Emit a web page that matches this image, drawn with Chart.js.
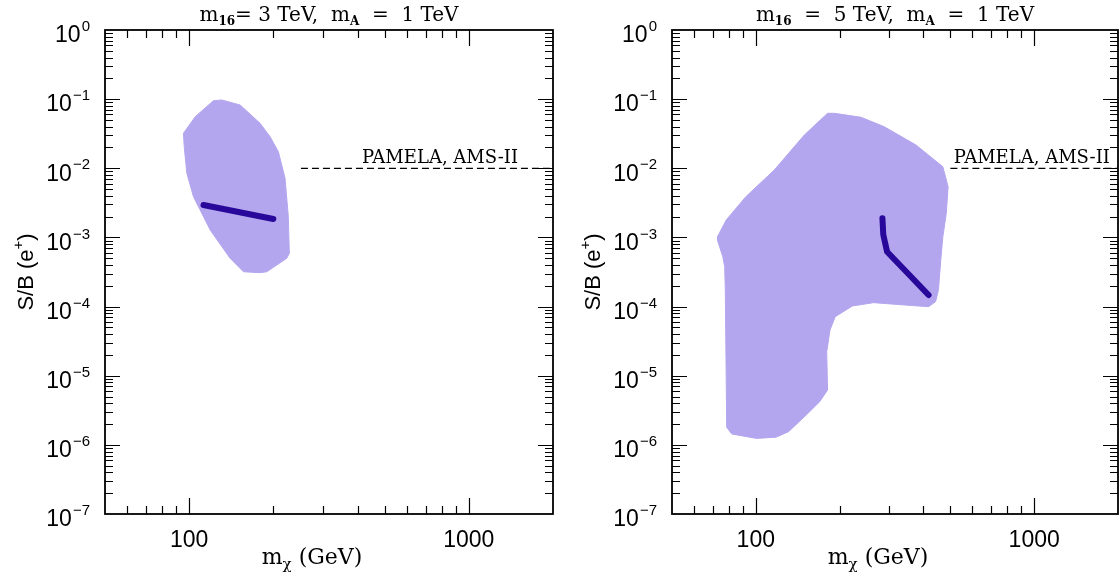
<!DOCTYPE html>
<html><head><meta charset="utf-8">
<script src="https://cdn.jsdelivr.net/npm/chart.js@4.4.1/dist/chart.umd.min.js"></script>
<style>
html,body{margin:0;padding:0;background:#fff;}
#wrap{position:relative;width:1120px;height:580px;overflow:hidden;}
.pane{position:absolute;top:0;width:560px;height:580px;}
</style></head><body>
<div id="wrap">
<div class="pane" style="left:0"><canvas id="c1" width="560" height="580"></canvas></div>
<div class="pane" style="left:560px"><canvas id="c2" width="560" height="580"></canvas></div>
</div>
<script>
// ---------- data ----------
const xTickLabels = [100, 1000];
const yDecades = [0, -1, -2, -3, -4, -5, -6, -7];

// left panel: m16 = 3 TeV
const leftRegionMass = [95.4, 105.1, 122.1, 130.9, 152.1, 179.3, 194.7, 208.4, 220.2, 226.2, 228.1, 223.3, 189.5, 179.3, 156.3, 140.1, 118.9, 103.6, 98.1, 96.0];
const leftRegionSB   = [0.0321, 0.0557, 0.0949, 0.0972, 0.0823, 0.0447, 0.0286, 0.0174, 0.00716, 0.00200, 0.000589, 0.000499, 0.000319, 0.000309, 0.000319, 0.000499, 0.00128, 0.00388, 0.00846, 0.0205];
const leftLineMass = [112.5, 200.0];
const leftLineSB   = [0.00294, 0.00185];
const leftLimitMass = [251, 2000];
const leftLimitSB   = [0.01, 0.01];

// right panel: m16 = 5 TeV
const rightRegionMass = [72.8, 78.3, 92.1, 116.5, 149.4, 181.0, 191.8, 239.0, 289.3, 376.3, 469.7, 490.6, 483.4, 469.7, 461.9, 452.9, 442.6, 417.4, 306.4, 264.9, 222.3, 192.9, 184.7, 179.8, 181.0, 169.6, 151.7, 131.1, 118.1, 100.6, 81.9, 78.6, 77.7, 77.3, 76.1, 72.8];
const rightRegionSB   = [0.00102, 0.00179, 0.00388, 0.00944, 0.0303, 0.0624, 0.0624, 0.0546, 0.0399, 0.0217, 0.01054, 0.00542, 0.00223, 0.00102, 0.000471, 0.000174, 0.000118, 0.0000995, 0.000109, 0.000114, 0.000102, 0.0000713, 0.0000458, 0.0000222, 0.00000621, 0.00000421, 0.0000027, 0.00000155, 0.00000129, 0.00000124, 0.00000144, 0.0000018, 0.000174, 0.000377, 0.000526, 0.000918];
const rightLineMass = [285.0, 287.0, 296.2, 417.4];
const rightLineSB   = [0.00189, 0.00110, 0.000621, 0.000147];
const rightLimitMass = [500, 2000];
const rightLimitSB   = [0.01, 0.01];

const titles = [
  [["m",0],["16",1],["= 3 TeV,  m",0],["A",1],["  =  1 TeV",0]],
  [["m",0],["16",1],["  =  5 TeV,  m",0],["A",1],["  =  1 TeV",0]]
];
const limitLabel = "PAMELA, AMS-II";

// ---------- style ----------
const FILL = "rgb(180,166,238)";
const LINE = "#27089a";
const SANS = "'Liberation Sans', Arial, sans-serif";
const SERIF = "'DejaVu Serif', 'Liberation Serif', serif";

function pts(xs, ys, close) {
  const p = xs.map((x, i) => ({x: x, y: ys[i]}));
  if (close) p.push({x: xs[0], y: ys[0]});
  return p;
}

function richText(ctx, parts, x, y, align, bigFont, smallFont, subDy) {
  let w = 0;
  parts.forEach(p => { ctx.font = p[1] ? smallFont : bigFont; w += ctx.measureText(p[0]).width; });
  let cx = align === 'center' ? x - w / 2 : (align === 'right' ? x - w : x);
  ctx.textAlign = 'left';
  ctx.textBaseline = 'alphabetic';
  parts.forEach(p => {
    ctx.font = p[1] ? smallFont : bigFont;
    ctx.fillText(p[0], cx, y + (p[1] ? subDy : 0));
    cx += ctx.measureText(p[0]).width;
  });
}

function makePlugin(idx, limitX, limitAlign) {
  return {
    id: 'deco' + idx,
    afterDraw(chart) {
      const ctx = chart.ctx, a = chart.chartArea;
      const xs = chart.scales.x, ys = chart.scales.y;
      ctx.save();
      ctx.strokeStyle = '#000';
      ctx.fillStyle = '#000';
      // inward ticks
      ctx.lineWidth = 1.2;
      ctx.beginPath();
      for (let d = 1; d <= 3; d++) for (let k = 1; k <= 9; k++) {
        const v = k * Math.pow(10, d);
        if (v <= 50 || v >= 2000) continue;
        const px = Math.round(xs.getPixelForValue(v)) + 0.5;
        const L = k === 1 ? 16 : 8;
        ctx.moveTo(px, a.bottom); ctx.lineTo(px, a.bottom - L);
        ctx.moveTo(px, a.top); ctx.lineTo(px, a.top + L);
      }
      for (let d = -7; d <= 0; d++) for (let k = 1; k <= 9; k++) {
        const v = k * Math.pow(10, d);
        if (v <= 1e-7 || v >= 1) continue;
        const py = Math.round(ys.getPixelForValue(v)) + 0.5;
        const L = k === 1 ? 15 : 8;
        ctx.moveTo(a.left, py); ctx.lineTo(a.left + L, py);
        ctx.moveTo(a.right, py); ctx.lineTo(a.right - L, py);
      }
      ctx.stroke();
      // frame
      ctx.lineWidth = 1.8;
      ctx.strokeRect(a.left, a.top, a.right - a.left, a.bottom - a.top);
      // y tick labels 10^n
      yDecades.forEach(n => {
        const py = ys.getPixelForValue(Math.pow(10, n));
        const exp = n === 0 ? "0" : "\u2212" + (-n);
        ctx.font = "15px " + SANS;
        const ew = ctx.measureText(exp).width;
        const right = a.left - 15;
        ctx.textBaseline = 'middle';
        ctx.textAlign = 'left';
        ctx.fillText(exp, right - ew, py - 3);
        ctx.font = "23px " + SANS;
        ctx.textAlign = 'right';
        ctx.fillText("10", right - ew - 1, py + 6);
      });
      // title
      richText(ctx, titles[idx], (a.left + a.right) / 2, 21, 'center', "20px " + SERIF, "bold 12px " + SERIF, 4);
      // x title
      richText(ctx, [["m",0],["\u03c7",1],[" (GeV)",0]], (a.left + a.right) / 2 - 17, 564, 'center', "22px " + SERIF, "15px " + SERIF, 5);
      // y title rotated
      ctx.save();
      ctx.translate(a.left - 80, (a.top + a.bottom) / 2);
      ctx.rotate(-Math.PI / 2);
      richText(ctx, [["S/B (e",0],["+",1],[")",0]], 0, 8, 'center', "22px " + SANS, "15px " + SANS, -10);
      ctx.restore();
      // limit label
      ctx.font = "18px " + SERIF;
      ctx.textBaseline = 'alphabetic';
      ctx.textAlign = limitAlign;
      ctx.fillText(limitLabel, xs.getPixelForValue(limitX), ys.getPixelForValue(0.01) - 5);
      ctx.restore();
    }
  };
}

function makeChart(id, idx, region, line, limit, pad, limitX, limitAlign) {
  return new Chart(document.getElementById(id), {
    type: 'scatter',
    data: {
      datasets: [
        { data: region, showLine: true, fill: 'shape', backgroundColor: FILL, borderColor: FILL, borderWidth: 1, pointRadius: 0, tension: 0, order: 3 },
        { data: line, showLine: true, fill: false, borderColor: LINE, borderWidth: 6, borderCapStyle: 'round', borderJoinStyle: 'round', pointRadius: 0, tension: 0, order: 1 },
        { data: limit, showLine: true, fill: false, borderColor: '#000', borderWidth: 1.2, borderDash: [7, 4], pointRadius: 0, tension: 0, order: 2 }
      ]
    },
    options: {
      responsive: false,
      animation: false,
      devicePixelRatio: 1,
      layout: { padding: { left: 0, right: pad.right, top: 30, bottom: 0 } },
      plugins: { legend: { display: false }, tooltip: { enabled: false }, title: { display: false } },
      scales: {
        x: {
          type: 'logarithmic', min: 50, max: 2000,
          grid: { display: false, drawTicks: false }, border: { display: false },
          ticks: {
            autoSkip: false, maxRotation: 0, padding: 13, color: '#000',
            font: { family: SANS, size: 23 },
            callback: (v) => xTickLabels.includes(v) ? String(v) : ''
          },
          afterFit: (s) => { s.height = 66; s.paddingLeft = 0; s.paddingRight = 0; }
        },
        y: {
          type: 'logarithmic', min: 1e-7, max: 1,
          grid: { display: false, drawTicks: false }, border: { display: false },
          ticks: { display: false },
          afterFit: (s) => { s.width = pad.left; s.paddingTop = 0; s.paddingBottom = 0; }
        }
      }
    },
    plugins: [makePlugin(idx, limitX, limitAlign)]
  });
}

makeChart('c1', 0, pts(leftRegionMass, leftRegionSB, true), pts(leftLineMass, leftLineSB), pts(leftLimitMass, leftLimitSB), {left: 105, right: 7}, 1500, 'right');
makeChart('c2', 1, pts(rightRegionMass, rightRegionSB, true), pts(rightLineMass, rightLineSB), pts(rightLimitMass, rightLimitSB), {left: 112, right: 2}, 1870, 'right');
</script>
</body></html>
